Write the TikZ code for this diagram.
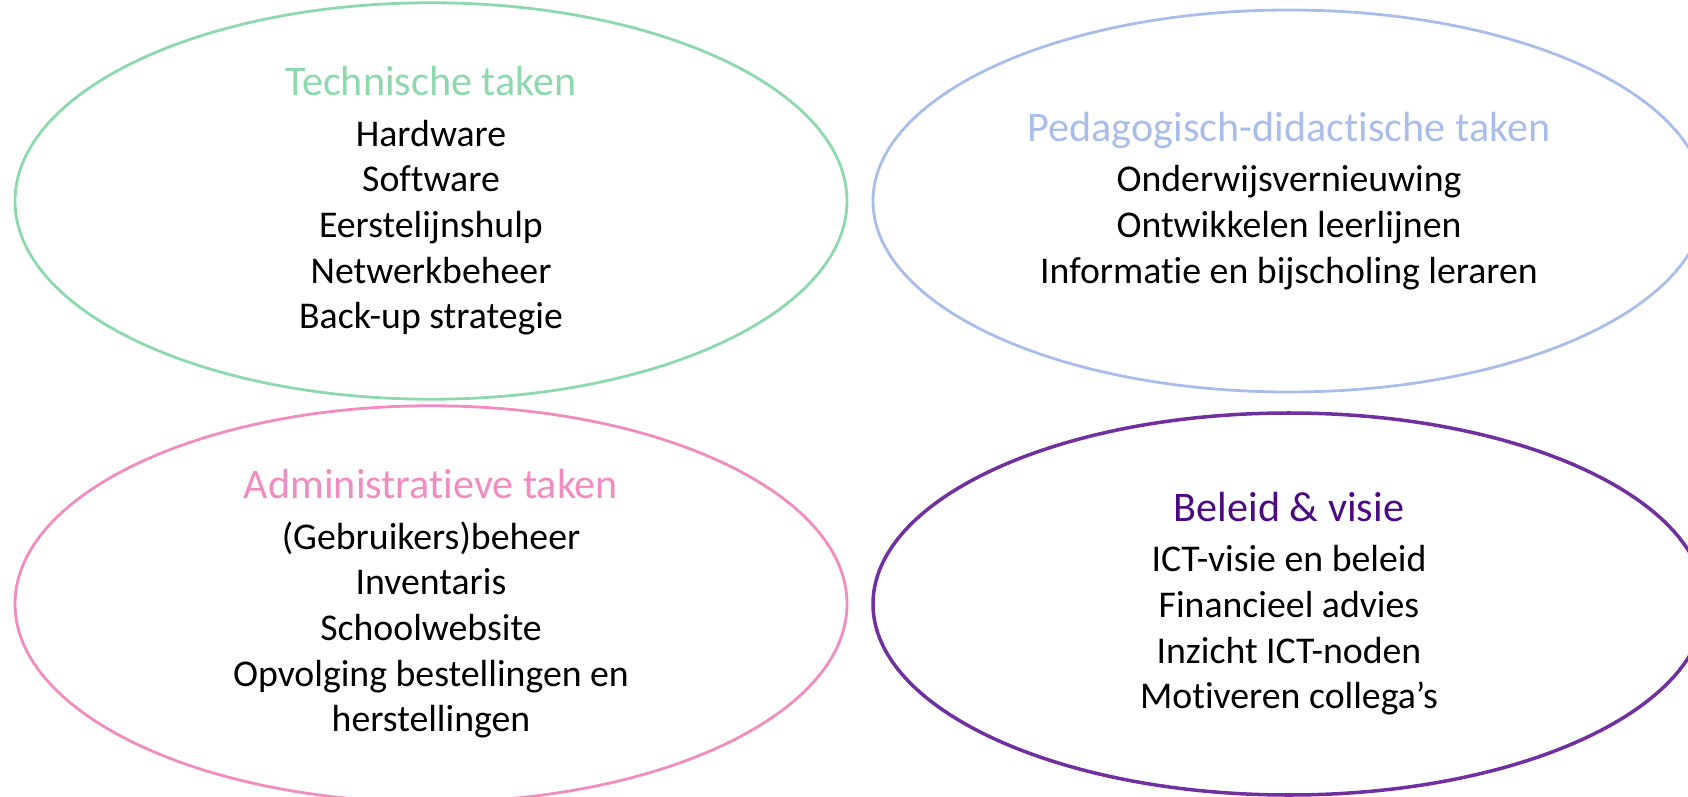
\documentclass[tikz,border=0pt]{standalone}
\usepackage{fontspec}
\setmainfont{Carlito}[Ligatures=NoCommon]
\usepackage{tikz}
\usetikzlibrary{shapes}
\definecolor{techgreen}{HTML}{8ED8AE}
\definecolor{pedblue}{HTML}{A9BDEB}
\definecolor{admpink}{HTML}{F08CBF}
\definecolor{visiepurple}{HTML}{7030A0}
\definecolor{visietitle}{HTML}{4B0A82}
\newcommand{\tikzTaskTitle}[2]{{\fontsize{24}{28}\selectfont\color{#1}#2}\\[2.5pt]}

\begin{document}
\begin{tikzpicture}[line width=1.6pt]
  \useasboundingbox (0,0) rectangle (33.76,15.92);
  \clip (0,0) rectangle (33.76,15.92);
  \tikzset{taak/.style={draw=#1,ellipse,minimum width=16.64cm,minimum height=7.64cm,align=center,font=\fontsize{21.5}{26}\selectfont}}
  \node [taak=techgreen] (tech) at ( 8.62,11.90) {\tikzTaskTitle{techgreen}{Technische taken}Hardware\\Software\\Eerstelijnshulp\\Netwerkbeheer\\Back-up strategie};
  \node [taak=pedblue] (ped) at (25.78,11.90) {\tikzTaskTitle{pedblue}{Pedagogisch-didactische taken}Onderwijsvernieuwing\\Ontwikkelen leerlijnen\\Informatie en bijscholing leraren};
  \node [taak=admpink] (adm) at ( 8.62, 3.84) {\tikzTaskTitle{admpink}{Administratieve taken}(Gebruikers)beheer\\Inventaris\\Schoolwebsite\\Opvolging bestellingen en\\herstellingen};
  \node [taak=visiepurple,line width=2pt] (visie) at (25.78, 3.84) {\tikzTaskTitle{visietitle}{Beleid \& visie}ICT-visie en beleid\\Financieel advies\\Inzicht ICT-noden\\Motiveren collega’s};
\end{tikzpicture}
\end{document}
